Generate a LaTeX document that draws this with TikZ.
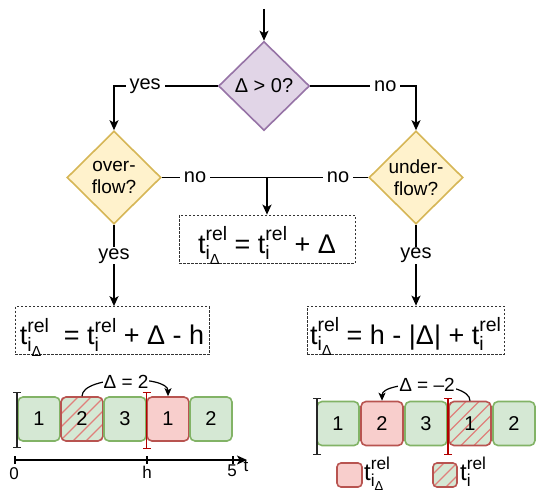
\documentclass[tikz,border=0pt]{standalone}
\usepackage{fontspec}
\setmainfont{Liberation Sans}
\usepackage{graphicx}
\usetikzlibrary{shapes.geometric,arrows.meta,calc}
\definecolor{gfill}{HTML}{D5E8D4}
\definecolor{gline}{HTML}{82B366}
\definecolor{rfill}{HTML}{F8CECC}
\definecolor{rline}{HTML}{B85450}
\definecolor{pfill}{HTML}{E1D5E7}
\definecolor{pline}{HTML}{9673A6}
\definecolor{yfill}{HTML}{FFF2CC}
\definecolor{yline}{HTML}{D6B656}
\definecolor{hatchc}{HTML}{E0807B}
\definecolor{brred}{HTML}{B20000}
\newcommand{\tv}[1]{t\setbox0=\hbox{\raisebox{0.45em}{\scalebox{0.72}{rel}}}\setbox2=\hbox{\raisebox{-0.25em}{\scalebox{0.72}{#1}}}\ifdim\wd0>\wd2\relax\rlap{\box2\relax}\box0\relax\else\rlap{\box0\relax}\box2\relax\fi}
\newcommand{\iD}{i\raisebox{-0.25em}{\scalebox{0.75}{Δ}}}
\begin{document}
\begin{tikzpicture}[x=1pt,y=-1pt,
  conn/.style={line width=1.6pt, black},
  arr/.style={conn, -{Stealth[length=10pt,width=9pt,inset=2.5pt]}},
  lbl/.style={fill=white, inner xsep=4pt, inner ysep=1pt, font=\fontsize{20}{22}\selectfont},
  dia/.style={diamond, draw, line width=1.6pt, inner sep=0pt, aspect=1, align=center},
  fbox/.style={draw=black!80, line width=0.7pt, dash pattern=on 2.5pt off 1.5pt, inner ysep=0pt, inner xsep=0pt, text height=38pt, text depth=10pt, font=\fontsize{27}{30}\selectfont},
  tb/.style={draw, rounded corners=5pt, line width=1.6pt, minimum width=42pt, minimum height=44pt, inner sep=0pt, font=\fontsize{20}{22}\selectfont},
  gb/.style={tb, fill=gfill, draw=gline},
  rb/.style={tb, fill=rfill, draw=rline},
  hatch/.style={path picture={
     \foreach \k in {-5,...,5}{
       \draw[hatchc, line width=1.1pt] ($(path picture bounding box.center)+(\k*13pt,0pt)+(-40pt,-40pt)$) -- ++(80pt,80pt);
     }}},
  hb/.style={tb, fill=gfill, draw=rline, hatch},
  small/.style={font=\fontsize{19}{20}\selectfont},
  carr/.style={line width=1.2pt, black, -{Stealth[length=8pt,width=7pt,inset=2pt]}},
  brk/.style={line width=1.2pt, {Bar[width=8pt]}-{Bar[width=8pt]}},
  axlbl/.style={font=\fontsize{17}{18}\selectfont, inner sep=0pt},
  leg/.style={anchor=base west, inner sep=0pt, font=\fontsize{24}{26}\selectfont}
]
\useasboundingbox (0,0) rectangle (537,492);

% flowchart
\coordinate (start) at (264,9);
\node[dia, fill=pfill, draw=pline, minimum width=91pt, minimum height=89pt, font=\fontsize{20}{22}\selectfont] (d0) at (264,86) {Δ > 0?};
\node[dia, fill=yfill, draw=yline, minimum width=94pt, minimum height=93pt, font=\fontsize{19}{22}\selectfont] (dov) at (114,177.5) {over-\\flow?};
\node[dia, fill=yfill, draw=yline, minimum width=94pt, minimum height=93pt, font=\fontsize{19}{22}\selectfont] (dun) at (416,177.5) {under-\\flow?};

\node[fbox, minimum width=176pt] (bm) at (267,239) {\tv{\iD} = \tv{i} + Δ};
\node[fbox, minimum width=194pt] (bl) at (112,330.5) {\tv{\iD}\ \ = \tv{i} + Δ - h};
\node[fbox, minimum width=197pt] (br) at (405.5,330) {\tv{\iD} = h - |Δ| + \tv{i}};

\draw[arr] (start) -- (d0.north);
\draw[arr] (d0.west) -| node[lbl, pos=0.35] (lyes0) {yes} (dov.north);
\draw[arr] (d0.east) -| node[lbl, pos=0.355] (lno0) {no} (dun.north);
\coordinate (j) at (267,177.5);
\draw[conn] (dov.east) -- (dun.west);
\node[lbl] (lno1) at (195,177.5) {no};
\node[lbl] (lno2) at (338,177.5) {no};
\draw[arr] (j) -- (bm.north);
\draw[arr] (dov.south) -- node[lbl, pos=0.38] (lyes1) {yes} (dov.south |- bl.north);
\draw[arr] (dun.south) -- node[lbl, pos=0.38] (lyes2) {yes} (dun.south |- br.north);

% left timeline
\node[gb] (a1) at (39,419) {1};
\node[hb] (a2) at (82,419) {2};
\node[gb] (a3) at (125,419) {3};
\node[rb] (a4) at (168,419) {1};
\node[gb] (a5) at (211,419) {2};
\draw[brk, black!85] (17,392) -- (17,448);
\draw[brk, brred] (146.5,392) -- (146.5,449);
\draw[carr] (a2.north) .. controls (82,375) and (168,375) .. (a4.north);
\node[fill=white, inner sep=1pt, small] (dl) at (126,382) {Δ = 2};

% axis
\coordinate (ax0) at (15,460);
\coordinate (ax1) at (247,460);
\draw[line width=1.4pt, -{Stealth[length=10pt,width=9pt,inset=2.5pt]}] (ax0) -- (ax1);
\foreach \xx in {15,147,233} \draw[line width=1.4pt] (\xx,456) -- (\xx,464);
\node[axlbl] (l0) at (14,474) {0};
\node[axlbl] (lh) at (147,472) {h};
\node[axlbl] (l5) at (232,471) {5};
\node[axlbl] (lt) at (246,466) {t};

% right timeline
\node[gb] (b1) at (338,423.5) {1};
\node[rb] (b2) at (382,423.5) {2};
\node[gb] (b3) at (426,423.5) {3};
\node[hb] (b4) at (470,423.5) {1};
\node[gb] (b5) at (514,423.5) {2};
\draw[brk, black!85] (317,398) -- (317,455);
\draw[brk, brred] (448,398) -- (448,455);
\draw[carr] (b4.north) .. controls (470,380) and (382,380) .. (b2.north);
\node[fill=white, inner sep=1pt, small] (dr) at (427,385) {Δ = –2};

% legend
\node[rb, minimum width=25pt, minimum height=24pt, rounded corners=4pt] (g1) at (349.5,475) {};
\node[leg] (g1t) at (364,480) {\tv{\iD}};
\node[hb, minimum width=24pt, minimum height=24pt, rounded corners=4pt] (g2) at (445,475) {};
\node[leg] (g2t) at (460,480) {\tv{i}};
\end{tikzpicture}
\end{document}
